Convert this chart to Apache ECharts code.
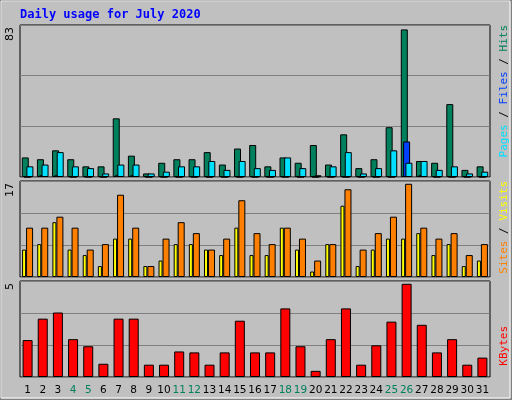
<!DOCTYPE html><html><head><meta charset="utf-8">
<script src="https://cdn.jsdelivr.net/npm/echarts@6/dist/echarts.min.js"></script>
<style>html,body{margin:0;padding:0;background:#c0c0c0}#c{width:512px;height:400px}</style></head><body><div id="c"></div>
<script>
const days = Array.from({length:31},(_,i)=>String(i+1));
const weekendDays = ['4','5','11','12','18','19','25','26'];
const hits  = [11,10,15,10,6,6,33,12,2,8,10,10,14,7,16,18,6,11,8,18,7,24,5,10,28,83,9,8,41,4,6];
const files = [0,1,1,0,0,0,1,1,0,0,0,0,0,0,0,0,0,0,0,0,0,0,0,0,0,20,1,0,0,0,0];
const pages = [6,7,14,6,5,2,7,7,2,3,6,6,9,4,9,5,4,11,5,1,6,14,2,5,15,8,9,4,6,2,3];
const sites = [5,6,10,5,4,2,7,7,2,3,6,6,5,4,9,4,4,9,5,1,6,13,2,5,7,7,8,4,6,2,3];
const visits= [9,9,11,9,5,6,15,9,2,7,10,8,5,7,14,8,6,9,7,3,6,16,5,8,11,17,9,7,8,4,6];
const kbytes= [1.98,3.13,3.46,2.03,1.65,0.71,3.13,3.13,0.66,0.66,1.37,1.32,0.66,1.32,3.02,1.32,1.32,3.68,1.65,0.33,2.03,3.68,0.66,1.7,2.97,5,2.8,1.32,2.03,0.66,1.04];
const maxLabels = ['83','17','5'];

const panels=[{top:25,height:152,max:83},{top:181,height:96,max:17},{top:281,height:96,max:5}];
const grid=panels.map(p=>({left:20,right:22,top:p.top,height:p.height,show:true,backgroundColor:'#c0c0c0',borderColor:'#000',borderWidth:1}));
const xAxis=panels.map((p,i)=>({type:'category',gridIndex:i,data:days,axisTick:{show:false},axisLine:{show:false},
  axisLabel:{show:i===2,interval:0,fontFamily:'DejaVu Sans',fontSize:10.5,margin:8,color:(v)=>weekendDays.includes(v)?'#00805c':'#000'}}));
const yAxis=panels.map((p,i)=>{const m=p.max*1.03;return {type:'value',gridIndex:i,min:0,max:m,interval:m/3,axisLabel:{show:false},axisLine:{show:false},axisTick:{show:false},splitLine:{lineStyle:{color:'#808080',width:1}}};});
const bs={borderColor:'#000',borderWidth:1};
const series=[
 {type:'bar',name:'Hits',xAxisIndex:0,yAxisIndex:0,data:hits,barWidth:7,barGap:'-67%',itemStyle:{color:'#00805c',...bs}},
 {type:'bar',name:'Files',xAxisIndex:0,yAxisIndex:0,data:files,barWidth:7,barGap:'-67%',itemStyle:{color:'#0040ff',...bs}},
 {type:'bar',name:'Pages',xAxisIndex:0,yAxisIndex:0,data:pages,barWidth:7,barGap:'-67%',itemStyle:{color:'#00e0ff',...bs}},
 {type:'bar',name:'Sites',xAxisIndex:1,yAxisIndex:1,data:sites,barWidth:4,barGap:'0%',itemStyle:{color:'#ffff00',...bs}},
 {type:'bar',name:'Visits',xAxisIndex:1,yAxisIndex:1,data:visits,barWidth:7,barGap:'0%',itemStyle:{color:'#ff8000',...bs}},
 {type:'bar',name:'KBytes',xAxisIndex:2,yAxisIndex:2,data:kbytes,barWidth:10,itemStyle:{color:'#ff0000',...bs}}
];
const ff='DejaVu Sans Mono';
const F='11px '+ff;
const side=(y,rich,text)=>({type:'text',x:504,y:y,rotation:Math.PI/2,style:{text:text,rich:rich,font:F,align:'right',verticalAlign:'middle'}});
const graphic=[
 {type:'rect',shape:{x:0,y:0,width:512,height:400},style:{fill:'none',stroke:'#808080',lineWidth:3},silent:true},
 {type:'rect',shape:{x:1,y:1,width:509,height:397},style:{fill:'none',stroke:'#fff',lineWidth:1},silent:true},
 {type:'text',x:20,y:9,style:{text:'Daily usage for July 2020',font:'bold 12px '+ff,fill:'#0000ff'}},
 ...panels.map((p,i)=>({type:'text',x:10,y:p.top+2,rotation:Math.PI/2,style:{text:maxLabels[i],font:'11px DejaVu Sans',fill:'#000',align:'right',verticalAlign:'middle'}})),
 side(25,{a:{fill:'#00e0ff',font:F},b:{fill:'#0040ff',font:F},c:{fill:'#00805c',font:F},s:{fill:'#000',font:F}},'{a|Pages}{s| / }{b|Files}{s| / }{c|Hits}'),
 side(181,{a:{fill:'#ff8000',font:F},b:{fill:'#ffff00',font:F},s:{fill:'#000',font:F}},'{a|Sites}{s| / }{b|Visits}'),
 side(326,{a:{fill:'#ff0000',font:F}},'{a|KBytes}')
];
const chart=echarts.init(document.getElementById('c'));
chart.setOption({animation:false,backgroundColor:'#c0c0c0',grid,xAxis,yAxis,series,graphic});
</script></body></html>
